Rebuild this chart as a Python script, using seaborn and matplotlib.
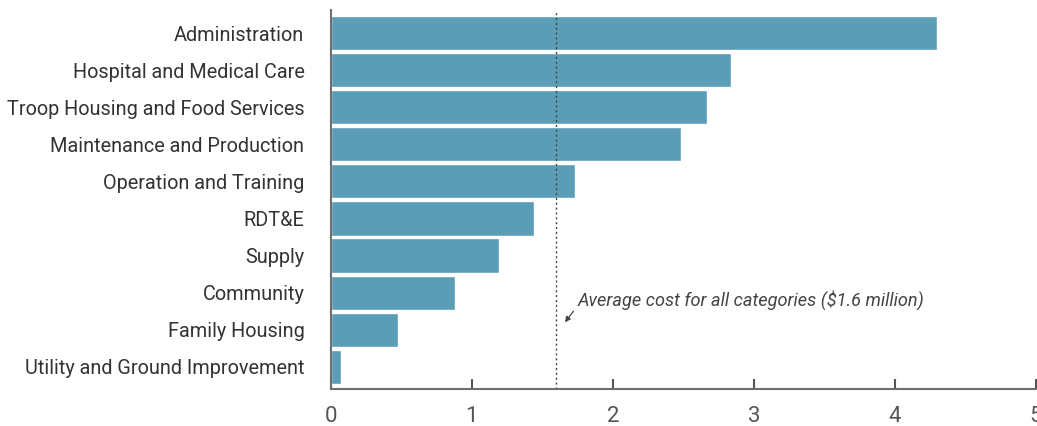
import matplotlib
matplotlib.use("Agg")
import numpy as np
import pandas as pd
import seaborn as sns
import matplotlib.pyplot as plt

categories = [
    "Administration",
    "Hospital and Medical Care",
    "Troop Housing and Food Services",
    "Maintenance and Production",
    "Operation and Training",
    "RDT&E",
    "Supply",
    "Community",
    "Family Housing",
    "Utility and Ground Improvement",
]
costs = [4.30, 2.84, 2.67, 2.48, 1.73, 1.44, 1.19, 0.88, 0.475, 0.07]
average_cost = 1.6
x_ticks = [0, 1, 2, 3, 4, 5]

df = pd.DataFrame({"category": categories, "cost": costs})

sns.set_style("white")
plt.rcParams["font.family"] = ["Roboto", "DejaVu Sans"]

fig = plt.figure(figsize=(10.37, 4.26), dpi=100)
ax = fig.add_axes([0.319, 0.087, 0.680, 0.889])

sns.barplot(data=df, x="cost", y="category", orient="h", color="#5b9db6",
            saturation=1, width=0.92, ax=ax)

ax.axvline(average_cost, color="#444444", linestyle=(0, (1.5, 2)), linewidth=1)
ax.annotate("Average cost for all categories ($1.6 million)",
            xy=(1.66, 7.8), xytext=(1.75, 7.2),
            fontsize=13.1, style="italic", color="#444444", va="center", ha="left",
            arrowprops=dict(arrowstyle="-|>", color="#444444", lw=0.9,
                            mutation_scale=8, relpos=(0, 0.2),
                            shrinkA=1, shrinkB=0))

ax.set_xlim(0, 5)
ax.set_ylim(9.6, -0.62)
ax.set_xticks(x_ticks)
ax.set_xlabel("")
ax.set_ylabel("")

for s in ["top", "right"]:
    ax.spines[s].set_visible(False)
for s in ["left", "bottom"]:
    ax.spines[s].set_color("#6e6e6e")
    ax.spines[s].set_linewidth(1.5)

ax.tick_params(axis="x", bottom=True, direction="in", length=7, width=1.5,
               color="#555555", labelsize=16, labelcolor="#555555", pad=12)
ax.tick_params(axis="y", left=False, length=0, labelsize=14.3,
               labelcolor="#333333", pad=19)

fig.savefig("out.png", dpi=100)
